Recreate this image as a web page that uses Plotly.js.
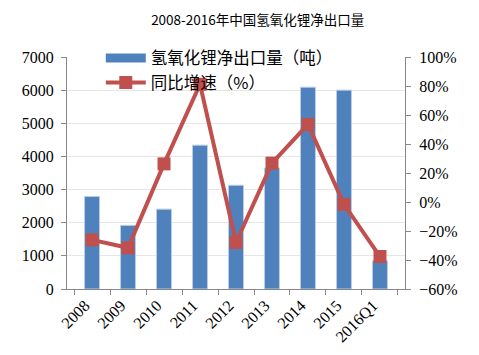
<!DOCTYPE html>
<html>
<head>
<meta charset="utf-8">
<script src="https://cdn.plot.ly/plotly-3.0.1.min.js"></script>
<style>html,body{margin:0;padding:0;background:#fff;}#chart{width:479px;height:355px;}</style>
</head>
<body>
<div id="chart"></div>
<script>
const categories = ['2008','2009','2010','2011','2012','2013','2014','2015','2016Q1'];
const exportVolume = [2790, 1920, 2410, 4340, 3130, 3650, 6090, 6000, 850];
const growthRate = [-26.1, -31.6, 26.3, 81.2, -27.9, 26.8, 53.5, -1.6, -37.6];
const barName = '氢氧化锂净出口量（吨）';
const lineName = '同比增速（%）';
const chartTitle = '2008-2016年中国氢氧化锂净出口量';

const serif = 'Liberation Serif, Times New Roman, serif';
const cjk = 'Noto Sans CJK SC, sans-serif';
const blue = '#4F81BD';
const red = '#C0504D';

const traces = [
  {
    type: 'bar', x: categories, y: exportVolume, name: barName,
    marker: {color: blue, line: {color: '#B9CDE5', width: 1}},
    yaxis: 'y', showlegend: false
  },
  {
    // legend entry for the bars (wide rectangle symbol like the original)
    type: 'scatter', mode: 'lines', x: [categories[0]], y: [null], name: barName,
    line: {color: blue, width: 9}, yaxis: 'y', hoverinfo: 'skip'
  },
  {
    type: 'scatter', mode: 'lines+markers', x: categories, y: growthRate, name: lineName,
    line: {color: red, width: 4},
    marker: {symbol: 'square', size: 13, color: red},
    yaxis: 'y2'
  }
];

const layout = {
  width: 479, height: 355,
  margin: {l: 67, r: 74, t: 57, b: 66},
  paper_bgcolor: '#fff', plot_bgcolor: '#fff',
  title: {text: chartTitle, font: {family: cjk, size: 13.5, color: '#000'}, xref: 'container', x: 0.538, xanchor: 'center', yref: 'container', y: 0.944, yanchor: 'middle'},
  bargap: 0.585,
  showlegend: true,
  legend: {
    x: 0.1, y: 1.07, xanchor: 'left', yanchor: 'top',
    bgcolor: 'rgba(255,255,255,0)',
    font: {family: cjk, size: 16.5, color: '#000'},
    tracegroupgap: 0, itemwidth: 40, traceorder: 'normal'
  },
  xaxis: {
    type: 'category',
    tickangle: -45,
    tickfont: {family: serif, size: 16, color: '#000'},
    ticks: 'outside', tickson: 'boundaries', ticklen: 5, tickcolor: '#888',
    showline: true, linecolor: '#888', linewidth: 1,
    showgrid: false, ticklabelshift: -7
  },
  yaxis: {
    range: [0, 7000], dtick: 1000,
    tickfont: {family: serif, size: 16, color: '#000'},
    ticks: 'outside', ticklen: 5, tickcolor: '#888', ticklabelstandoff: 4,
    showline: true, linecolor: '#888', linewidth: 1,
    showgrid: true, gridcolor: '#E6E6E6', zeroline: false
  },
  yaxis2: {
    overlaying: 'y', side: 'right',
    range: [-60, 100], dtick: 20, ticksuffix: '%',
    tickfont: {family: serif, size: 16, color: '#000'},
    ticks: 'outside', ticklen: 5, tickcolor: '#888', ticklabelstandoff: 5,
    showline: true, linecolor: '#888', linewidth: 1,
    showgrid: false, zeroline: false
  }
};

Plotly.newPlot('chart', traces, layout, {displayModeBar: false, staticPlot: true});
</script>
</body>
</html>
